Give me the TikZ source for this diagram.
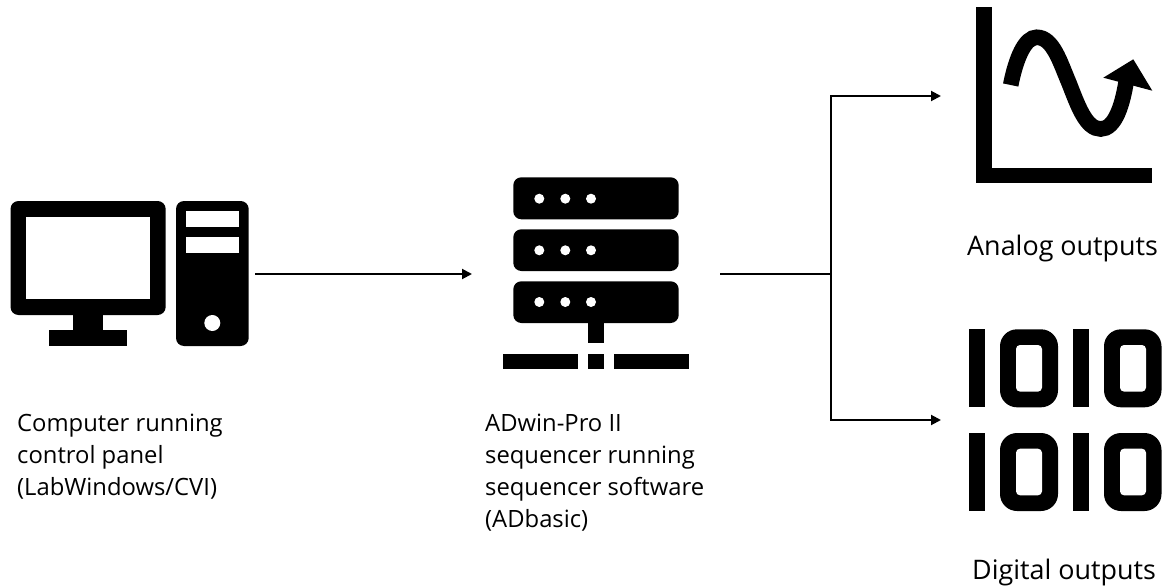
\documentclass[tikz,border=0pt]{standalone}
\usepackage{fontspec}
\setmainfont{Open Sans}
\usetikzlibrary{arrows.meta}
\tikzset{
  icon/.style={fill=black,draw=none},
  hole/.style={fill=white,draw=none},
  wire/.style={draw=black,line width=2pt},
  arrowwire/.style={wire,-{Triangle[length=10pt,width=10pt]}},
  lab/.style={anchor=base west,inner sep=0pt,font=\fontsize{23.8pt}{23.8pt}\selectfont},
  biglab/.style={anchor=base west,inner sep=0pt,font=\fontsize{26.9pt}{26.9pt}\selectfont}
}
\begin{document}
\begin{tikzpicture}[x=1pt,y=-1pt]
\useasboundingbox (0,0) rectangle (1171,586);
% computer
\fill[icon,rounded corners=8pt] (10.5,201) rectangle (165.7,315);
\fill[hole] (26,216.7) rectangle (150.3,299.3);
\fill[icon] (72.7,314) rectangle (103.3,331);
\fill[icon] (49.3,330.3) rectangle (127,346);
\fill[icon,rounded corners=8pt] (176,201) rectangle (248.7,346);
\fill[hole] (186.3,211.3) rectangle (238.7,227);
\fill[hole] (186.3,237.3) rectangle (238.7,252.7);
\fill[hole] (212.3,323) circle[radius=8];
% server
\foreach \t/\b/\d in {177.3/219.3/198.7,229.3/271/250.3,281.3/323/302}{
  \fill[icon,rounded corners=8pt] (513.3,\t) rectangle (678.7,\b);
  \foreach \x in {539.3,565.3,591}{\fill[hole] (\x,\d) circle[radius=5];}
}
\fill[icon] (588.3,322) rectangle (604,343.3);
\fill[icon] (503,353.7) rectangle (578.3,369.3);
\fill[icon] (588.3,353.7) rectangle (604,369.3);
\fill[icon] (614.3,353.7) rectangle (689.3,369.3);
% chart
\fill[icon] (976,7.3) rectangle (992,183.3);
\fill[icon] (976,168) rectangle (1152.3,183.3);
\draw[line width=15.6pt] (1010.7,85) .. controls (1016,58) and (1025,37.3) .. (1036.7,37.3)
  .. controls (1053,37.3) and (1060,62) .. (1069,83)
  .. controls (1078,106) and (1086,129) .. (1100.7,129)
  .. controls (1115,129) and (1123,105) .. (1127,76);
\fill[icon] (1103.3,77.7) -- (1133.3,59.3) -- (1152.3,90.7) -- cycle;
% digital
\foreach \t/\b in {329.3/407.3,433/511}{
  \fill[icon] (969.3,\t) rectangle (985.3,\b);
  \fill[icon] (1073,\t) rectangle (1089,\b);
  \fill[icon,rounded corners=17pt] (1000,\t) rectangle (1058,\b);
  \fill[hole,rounded corners=4pt] (1016,\t+15.7) rectangle (1042,\b-15.7);
  \fill[icon,rounded corners=17pt] (1104,\t) rectangle (1161.5,\b);
  \fill[hole,rounded corners=4pt] (1120,\t+15.7) rectangle (1146,\b-15.7);
}
% connectors
\coordinate (pcout) at (255,274);
\coordinate (serverin) at (472,274);
\coordinate (serverout) at (720,274);
\coordinate (branch) at (831,274);
\coordinate (analogin) at (941,96);
\coordinate (digitalin) at (941,420);
\draw[arrowwire] (pcout) -- (serverin);
\draw[wire] (serverout) -- (branch);
\draw[arrowwire] (branch) |- (analogin);
\draw[arrowwire] (branch) |- (digitalin);
% labels
\node[lab] (pc1) at (17,431) {Computer running};
\node[lab] (pc2) at (17,463) {control panel};
\node[lab] (pc3) at (17,495) {(LabWindows/CVI)};
\node[lab] (s1) at (485,431) {ADwin-Pro II};
\node[lab] (s2) at (485,463) {sequencer running};
\node[lab] (s3) at (485,495) {sequencer software};
\node[lab] (s4) at (485,527) {(ADbasic)};
\node[biglab] (an) at (967,255) {Analog outputs};
\node[biglab] (di) at (972,579) {Digital outputs};
\end{tikzpicture}
\end{document}
